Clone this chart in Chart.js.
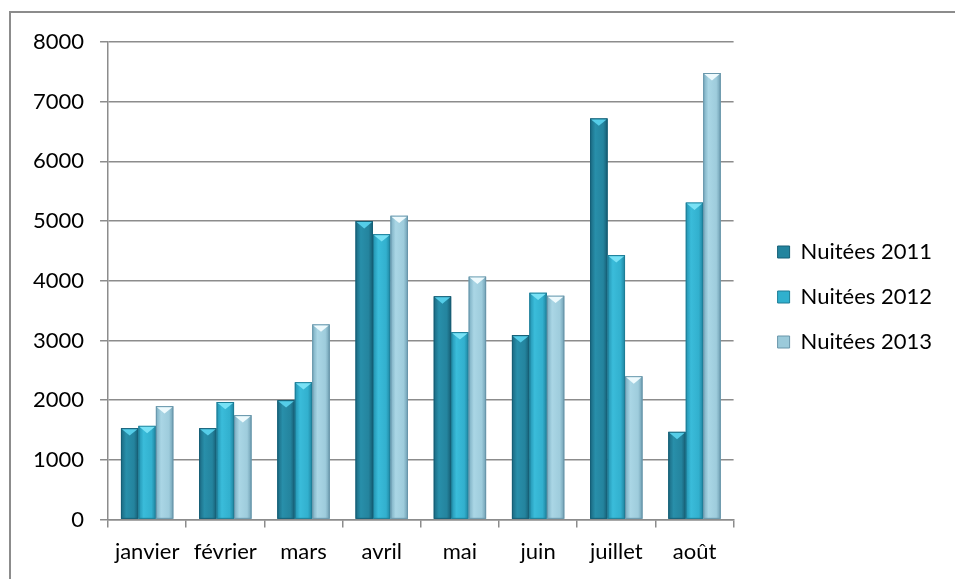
<!DOCTYPE html>
<html>
<head>
<meta charset="utf-8">
<script src="https://cdn.jsdelivr.net/npm/chart.js@4/dist/chart.umd.min.js"></script>
<style>
  html, body { margin: 0; padding: 0; background: #fff; }
  #wrap { position: relative; width: 955px; height: 579px; }
</style>
</head>
<body>
<div id="wrap"><canvas id="myChart" width="955" height="579"></canvas></div>
<script>
const labels = ['janvier', 'février', 'mars', 'avril', 'mai', 'juin', 'juillet', 'août'];

const nuitees2011 = [1530, 1530, 2000, 5000, 3740, 3090, 6720, 1470];
const nuitees2012 = [1570, 1970, 2300, 4780, 3140, 3800, 4430, 5310];
const nuitees2013 = [1900, 1750, 3270, 5090, 4070, 3750, 2400, 7480];

const yTicks = [0, 1000, 2000, 3000, 4000, 5000, 6000, 7000, 8000];

// base colour, body gradient stops (left -> right), top cap colour
const looks = [
    { base: 'rgb(35,132,158)', edge: 'rgb(22,95,118)', stops: ['rgb(26,104,128)', 'rgb(40,143,170)', 'rgb(36,132,158)', 'rgb(22,92,114)'], cap: 'rgb(85,205,232)' },
    { base: 'rgb(48,176,206)', edge: 'rgb(30,125,150)', stops: ['rgb(34,145,175)', 'rgb(58,188,218)', 'rgb(50,176,206)', 'rgb(30,130,158)'], cap: 'rgb(120,225,245)' },
    { base: 'rgb(155,202,218)', edge: 'rgb(105,150,170)', stops: ['rgb(120,172,192)', 'rgb(170,214,229)', 'rgb(158,204,220)', 'rgb(110,158,178)'], cap: 'rgb(238,250,253)' }
];

// extra room between plot and legend, and a small lift of the legend
const legendGap = 21;
const legendLift = 12;

const frame = {
    id: 'frame',
    beforeDraw(chart) {
        const ctx = chart.ctx;
        ctx.save();
        ctx.strokeStyle = '#8c8c8c';
        ctx.lineWidth = 2;
        ctx.beginPath();
        ctx.moveTo(10, 579);
        ctx.lineTo(10, 12);
        ctx.lineTo(955, 12);
        ctx.stroke();
        ctx.restore();
    }
};

const legendShift = {
    id: 'legendShift',
    beforeLayout(chart) {
        const lg = chart.legend;
        if (!lg || lg._shifted) return;
        lg._shifted = true;
        const fit = lg.fit, draw = lg.draw;
        lg.fit = function () { fit.call(this); this.width += legendGap; };
        lg.draw = function () {
            this.left += legendGap; this.top -= legendLift; this.bottom -= legendLift;
            draw.call(this);
            this.left -= legendGap; this.top += legendLift; this.bottom += legendLift;
        };
    }
};

const bevel = {
    id: 'bevel',
    afterDatasetsDraw(chart) {
        const ctx = chart.ctx;
        ctx.save();
        chart.data.datasets.forEach((ds, i) => {
            const look = looks[i];
            chart.getDatasetMeta(i).data.forEach(bar => {
                const p = bar.getProps(['x', 'y', 'base', 'width'], true);
                const l = p.x - p.width / 2, r = p.x + p.width / 2;
                const g = ctx.createLinearGradient(l, 0, r, 0);
                g.addColorStop(0, look.stops[0]);
                g.addColorStop(0.3, look.stops[1]);
                g.addColorStop(0.75, look.stops[2]);
                g.addColorStop(1, look.stops[3]);
                ctx.fillStyle = g;
                ctx.fillRect(l, p.y, p.width, p.base - p.y);
                ctx.strokeStyle = look.edge;
                ctx.lineWidth = 1;
                ctx.strokeRect(l + 0.5, p.y + 0.5, p.width - 1, p.base - p.y - 1);
                // light wedge on top
                ctx.fillStyle = look.cap;
                ctx.beginPath();
                ctx.moveTo(l + 1, p.y + 1);
                ctx.lineTo(r - 1, p.y + 1);
                ctx.lineTo(p.x, p.y + p.width * 0.42);
                ctx.closePath();
                ctx.fill();
            });
        });
        ctx.restore();
    }
};

const font = { family: 'Lato, "Open Sans", sans-serif', size: 22 };

const data = {
    labels: labels,
    datasets: [
        { label: 'Nuitées 2011', data: nuitees2011 },
        { label: 'Nuitées 2012', data: nuitees2012 },
        { label: 'Nuitées 2013', data: nuitees2013 }
    ].map((d, i) => Object.assign(d, {
        backgroundColor: looks[i].base,
        borderColor: looks[i].edge,
        borderWidth: 1,
        categoryPercentage: 0.67,
        barPercentage: 1.0
    }))
};

const config = {
    type: 'bar',
    data: data,
    options: {
        responsive: false,
        animation: false,
        layout: { padding: { top: 42, left: 17, right: 13, bottom: 3 } },
        plugins: {
            tooltip: { enabled: false },
            legend: {
                position: 'right',
                labels: {
                    font: font,
                    color: '#000',
                    boxWidth: 12,
                    boxHeight: 12,
                    padding: 23
                }
            }
        },
        scales: {
            x: {
                grid: { display: true, drawOnChartArea: false, drawTicks: true, tickLength: 8, color: '#8c8c8c', lineWidth: 1.5 },
                border: { color: '#8c8c8c', width: 1.5 },
                ticks: { font: font, color: '#000', padding: 11, maxRotation: 0, autoSkip: false }
            },
            y: {
                min: 0,
                max: 8000,
                afterBuildTicks: (scale) => { scale.ticks = yTicks.map(v => ({ value: v })); },
                grid: { color: '#8c8c8c', lineWidth: 1.5, tickLength: 8 },
                border: { color: '#8c8c8c', width: 1.5 },
                ticks: { font: font, color: '#000', padding: 16, callback: (v) => String(v) }
            }
        }
    },
    plugins: [frame, legendShift, bevel]
};

const myChart = new Chart(document.getElementById('myChart'), config);
</script>
</body>
</html>
